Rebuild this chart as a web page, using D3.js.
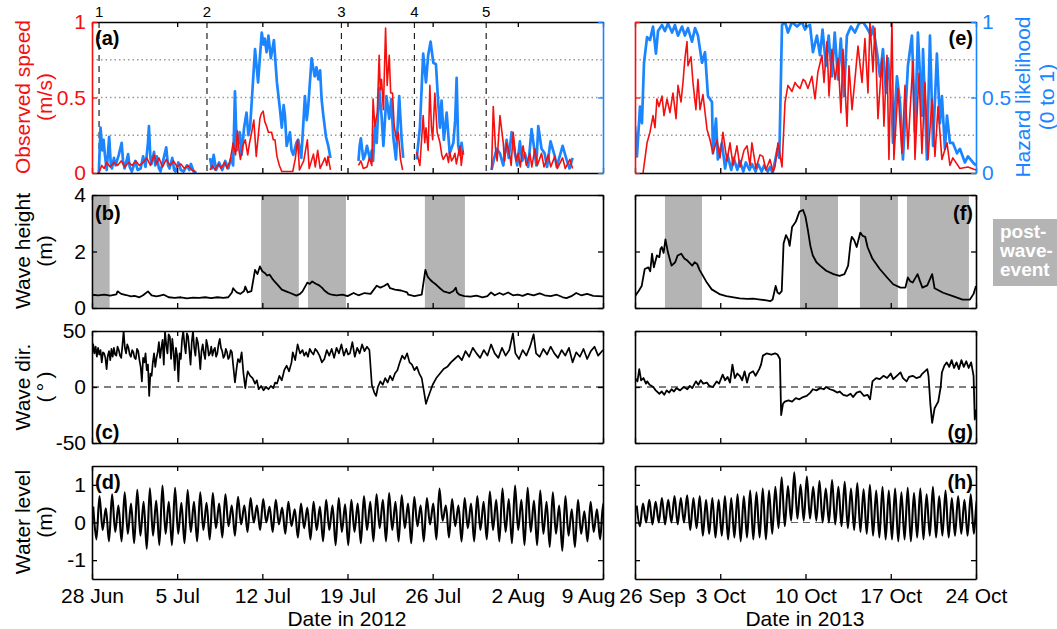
<!DOCTYPE html>
<html>
<head>
<meta charset="utf-8">
<script src="https://cdn.jsdelivr.net/npm/d3@7"></script>
<style>
  body { margin: 0; background: #fff; }
  svg { font-family: "Liberation Sans", Arial, Helvetica, sans-serif; }
</style>
</head>
<body>
<div id="chart"></div>
<script>
// ---- data (days since start of each window) ----
const ticks2012 = ["2012-06-28","2012-07-05","2012-07-12","2012-07-19","2012-07-26","2012-08-02","2012-08-09"];
const ticks2013 = ["2013-09-26","2013-10-03","2013-10-10","2013-10-17","2013-10-24"];
const eventDays2012 = [0.58, 9.45, 20.5, 26.5, 32.4];
const eventLabels = ["1","2","3","4","5"];
const postEvent2012 = [[0.1,1.45],[13.9,17.0],[17.75,20.87],[27.36,30.65]];
const postEvent2013 = [[2.46,5.5],[13.55,16.67],[18.47,21.59],[22.33,27.42]];

// hazard likelihood (blue), null = gap between deployments
const hazard2012 = [
  [0.56,0.0],[0.7,0.3],[0.85,0.15],[0.95,0.22],[1.06,0.12],[1.21,0.02],[1.41,0.24],[1.55,0.05],[1.64,0.03],[1.8,0.1],[1.94,0.05],[2.2,0.12],[2.44,0.2],[2.55,0.08],[2.68,0.03],[2.97,0.125],[3.1,0.04],[3.27,0.01],[3.56,0.08],[3.75,0.02],[4.0,0.03],[4.2,0.11],[4.4,0.04],[4.6,0.2],[4.68,0.31],[4.8,0.1],[4.89,0.06],[5.1,0.14],[5.2,0.05],[5.33,0.11],[5.5,0.03],[5.63,0.01],[5.9,0.1],[6.1,0.17],[6.25,0.05],[6.37,0.03],[6.6,0.1],[6.75,0.02],[6.87,0.01],[7.1,0.07],[7.3,0.02],[7.54,0.01],[7.8,0.05],[8.0,0.02],[8.13,0.06],[8.35,0.01],[8.58,0.0],
  null,
  [9.7,0.1],[9.85,0.03],[10.0,0.12],[10.2,0.02],[10.45,0.07],[10.7,0.02],[10.95,0.08],[11.2,0.03],[11.45,0.1],[11.6,0.05],[11.75,0.54],[11.9,0.15],[12.15,0.27],[12.3,0.12],[12.5,0.3],[12.7,0.4],[12.85,0.25],[13.0,0.31],[13.15,0.5],[13.4,0.82],[13.65,0.6],[13.95,0.93],[14.1,0.85],[14.2,0.89],[14.35,0.8],[14.5,0.91],[14.7,0.76],[14.95,0.88],[15.2,0.6],[15.45,0.42],[15.6,0.3],[15.75,0.45],[15.86,0.38],[16.0,0.18],[16.27,0.27],[16.4,0.15],[16.54,0.12],[16.8,0.2],[16.95,0.22],[17.2,0.1],[17.35,0.3],[17.5,0.51],[17.65,0.35],[17.77,0.44],[18.05,0.76],[18.3,0.64],[18.45,0.7],[18.6,0.62],[18.75,0.68],[18.87,0.49],[19.0,0.39],[19.23,0.24],[19.42,0.18],[19.6,0.1],
  null,
  [21.9,0.08],[22.0,0.18],[22.1,0.23],[22.3,0.09],[22.45,0.12],[22.6,0.18],[22.85,0.09],[23.0,0.15],[23.1,0.08],[23.25,0.31],[23.4,0.2],[23.6,0.56],[23.8,0.38],[23.95,0.18],[24.2,0.51],[24.43,0.36],[24.6,0.49],[24.76,0.24],[24.98,0.09],[25.25,0.51],[25.45,0.22],[25.58,0.1],
  null,
  [26.68,0.09],[26.95,0.3],[27.22,0.79],[27.45,0.6],[27.63,0.78],[27.83,0.87],[28.05,0.73],[28.27,0.72],[28.45,0.47],[28.6,0.3],[28.73,0.48],[28.92,0.22],[29.15,0.4],[29.4,0.13],[29.7,0.2],[29.85,0.35],[29.97,0.63],[30.1,0.18],[30.25,0.12],[30.38,0.2],[30.5,0.12],
  null,
  [32.84,0.02],[33.03,0.09],[33.26,0.16],[33.53,0.13],[33.8,0.05],[34.08,0.22],[34.25,0.1],[34.49,0.27],[34.76,0.13],[34.95,0.05],[35.17,0.21],[35.35,0.08],[35.58,0.13],[35.85,0.04],[36.13,0.29],[36.4,0.13],[36.52,0.05],[36.68,0.31],[36.95,0.16],[37.2,0.13],[37.4,0.04],[37.69,0.21],[38.04,0.11],[38.2,0.04],[38.68,0.18],[39.0,0.09],[39.25,0.03],[39.5,0.1]
];

// observed speed m/s (red)
const speed2012 = [
  [0.56,0.0],[0.8,0.05],[1.0,0.03],[1.2,0.07],[1.5,0.04],[1.8,0.07],[2.1,0.05],[2.4,0.08],[2.7,0.04],[3.0,0.07],[3.3,0.05],[3.6,0.08],[3.9,0.05],[4.2,0.07],[4.5,0.1],[4.8,0.05],[5.1,0.12],[5.3,0.06],[5.5,0.1],[5.8,0.04],[6.1,0.09],[6.4,0.05],[6.7,0.08],[7.0,0.04],[7.3,0.06],[7.6,0.03],[7.9,0.05],[8.2,0.02],[8.5,0.01],
  null,
  [9.7,0.02],[9.9,0.05],[10.1,0.02],[10.4,0.06],[10.6,0.03],[10.9,0.07],[11.1,0.03],[11.35,0.08],[11.6,0.2],[11.8,0.12],[11.95,0.28],[12.1,0.14],[12.2,0.09],[12.4,0.18],[12.6,0.22],[12.8,0.12],[12.95,0.2],[13.1,0.26],[13.3,0.35],[13.5,0.11],[13.8,0.36],[13.9,0.39],[14.07,0.41],[14.2,0.34],[14.35,0.31],[14.5,0.27],[14.76,0.27],[14.9,0.22],[15.04,0.22],[15.2,0.11],[15.4,0.05],[15.6,0.01],[16.0,0.01],[16.5,0.01],[16.7,0.09],[16.9,0.22],[17.05,0.02],[17.4,0.08],[17.7,0.22],[17.85,0.03],[18.2,0.125],[18.35,0.04],[18.55,0.15],[18.75,0.03],[19.15,0.1],[19.3,0.05],[19.4,0.11],[19.6,0.02],
  null,
  [21.9,0.05],[22.1,0.08],[22.3,0.03],[22.6,0.04],[22.8,0.1],[23.0,0.05],[23.1,0.49],[23.25,0.31],[23.45,0.4],[23.6,0.78],[23.7,0.55],[23.8,0.62],[23.95,0.42],[24.13,0.96],[24.26,0.58],[24.43,0.78],[24.55,0.53],[24.7,0.53],[24.84,0.31],[25.03,0.22],[25.17,0.27],[25.36,0.09],[25.53,0.02],
  null,
  [26.68,0.14],[26.95,0.05],[27.22,0.38],[27.35,0.2],[27.45,0.3],[27.63,0.15],[27.77,0.58],[27.9,0.3],[28.0,0.22],[28.18,0.53],[28.37,0.27],[28.6,0.2],[28.75,0.12],[28.87,0.09],[29.15,0.13],[29.3,0.07],[29.4,0.14],[29.55,0.08],[29.7,0.1],[29.83,0.13],[29.95,0.06],[30.24,0.18],[30.35,0.05],[30.5,0.15],
  null,
  [32.84,0.02],[32.98,0.44],[33.17,0.16],[33.3,0.08],[33.53,0.38],[33.8,0.2],[33.9,0.08],[34.08,0.2],[34.35,0.11],[34.45,0.05],[34.62,0.27],[34.85,0.08],[35.03,0.13],[35.2,0.04],[35.43,0.18],[35.7,0.05],[35.99,0.13],[36.15,0.04],[36.4,0.16],[36.6,0.05],[36.95,0.13],[37.15,0.04],[37.5,0.12],[37.7,0.04],[38.04,0.11],[38.25,0.03],[38.68,0.1],[38.9,0.03],[39.28,0.09],[39.5,0.03]
];

const hazard2013 = [
  [0,0.31],[0.16,0.11],[0.41,0.44],[0.57,0.33],[0.74,0.73],[0.99,0.9],[1.23,0.88],[1.48,0.97],[1.72,0.79],[1.89,0.94],[2.22,0.98],[2.46,0.94],[2.71,0.99],[3.04,0.93],[3.28,0.98],[3.53,0.91],[3.86,0.97],[4.1,0.91],[4.35,0.96],[4.68,0.87],[4.93,0.96],[5.17,0.91],[5.5,0.73],[5.75,0.8],[5.99,0.51],[6.32,0.47],[6.4,0.13],[6.65,0.36],[6.8,0.09],[7.14,0.2],
  [7.4,0.03],[7.6,0.12],[7.9,0.02],[8.1,0.1],[8.4,0.02],[8.6,0.08],[8.9,0.01],[9.1,0.07],[9.4,0.02],[9.6,0.06],[9.9,0.01],[10.1,0.06],[10.4,0.01],[10.6,0.05],[10.9,0.01],[11.1,0.04],[11.3,0.0],[11.5,0.08],[11.7,0.16],[11.85,0.1],
  [12.07,0.98],[12.32,1.0],[12.56,0.93],[12.89,1.0],[13.3,0.97],[13.71,1.0],[13.96,0.95],[14.12,0.97],[14.37,0.98],[14.61,0.8],[14.94,0.91],[15.19,0.78],[15.4,0.95],[15.68,0.71],[15.9,0.91],[16.17,0.64],[16.4,0.93],[16.67,0.62],[16.9,0.89],[17.16,0.51],[17.4,0.91],[17.73,0.97],[18.06,0.93],[18.39,0.99],[18.72,1.0],[19.05,0.96],[19.38,0.91],[19.54,0.97],[19.87,0.8],[20.11,0.64],[20.36,0.82],[20.61,0.53],[20.77,0.76],[21.1,0.42],[21.18,0.2],[21.51,0.64],[21.76,0.47],[22.0,0.09],[22.41,0.71],[22.74,0.91],[22.99,0.27],[23.23,0.93],[23.56,0.38],[23.65,0.82],[23.97,0.09],[24.22,0.91],[24.47,0.18],[24.79,0.79],[25.04,0.33],[25.2,0.51],[25.45,0.16],[25.62,0.38],[25.86,0.2],[26.1,0.2],[26.44,0.13],[26.68,0.16],[27.09,0.07],[27.34,0.11],[27.75,0.07],[28,0.05]
];

const speed2013 = [
  [0.66,0.0],[0.99,0.2],[1.23,0.27],[1.48,0.38],[1.64,0.3],[1.8,0.49],[1.97,0.44],[2.22,0.51],[2.38,0.38],[2.63,0.49],[2.87,0.4],[3.12,0.53],[3.37,0.36],[3.53,0.58],[3.78,0.47],[3.94,0.6],[4.1,0.76],[4.27,0.87],[4.35,0.71],[4.6,0.77],[4.76,0.6],[5.0,0.42],[5.17,0.62],[5.34,0.42],[5.58,0.52],[5.91,0.29],[6.16,0.22],[6.4,0.13],[6.73,0.22],[6.98,0.1],[7.22,0.27],[7.55,0.08],[7.8,0.2],[8.05,0.05],[8.37,0.18],[8.62,0.04],[8.95,0.15],[9.2,0.18],[9.44,0.05],[9.6,0.2],[9.93,0.03],[10.26,0.12],[10.5,0.11],[10.75,0.02],[11.08,0.09],[11.33,0.01],[11.49,0.04],[11.74,0.2],[12.07,0.04],
  [12.32,0.47],[12.56,0.58],[12.89,0.54],[13.14,0.6],[13.3,0.58],[13.55,0.56],[13.8,0.62],[13.96,0.61],[14.2,0.56],[14.53,0.64],[14.78,0.49],[15.02,0.67],[15.35,0.78],[15.52,0.6],[15.76,0.87],[15.93,0.51],[16.17,0.82],[16.42,0.62],[16.67,0.76],[16.91,0.4],[17.08,0.82],[17.41,0.31],[17.57,0.71],[17.82,0.42],[18.06,0.62],[18.31,0.84],[18.64,0.6],[18.88,0.89],[19.13,0.53],[19.29,1.0],[19.54,0.67],[19.7,0.96],[19.95,0.36],[20.28,0.76],[20.44,0.31],[20.69,0.78],[20.85,0.09],[21.1,1.0],[21.26,0.09],[21.59,0.56],[21.92,0.13],[22.17,0.58],[22.41,0.16],[22.82,0.74],[22.99,0.09],[23.32,0.66],[23.56,0.13],[23.81,0.6],[24.06,0.09],[24.38,0.49],[24.63,0.11],[24.88,0.44],[25.2,0.09],[25.62,0.2],[25.86,0.05],[26.1,0.1],[26.68,0.03],[27.34,0.04],[28,0.02]
];

// significant wave height (m)
const waveHeight2012 = [
  [0,0.47],[0.5,0.45],[1,0.47],[1.5,0.44],[2.0,0.48],[2.1,0.59],[2.4,0.5],[2.8,0.46],[3.2,0.41],[3.5,0.43],[3.9,0.38],[4.2,0.45],[4.6,0.59],[4.9,0.45],[5.3,0.41],[5.6,0.44],[5.9,0.47],[6.3,0.38],[6.8,0.36],[7.3,0.38],[7.8,0.34],[8.3,0.37],[8.8,0.36],[9.3,0.38],[9.8,0.35],[10.3,0.38],[10.8,0.36],[11.2,0.38],[11.5,0.55],[11.6,0.7],[11.9,0.55],[12.2,0.5],[12.5,0.6],[12.6,0.76],[12.8,0.55],[13.1,0.6],[13.3,1.1],[13.4,1.35],[13.6,1.2],[13.8,1.47],[14.0,1.3],[14.2,1.24],[14.4,1.15],[14.6,1.18],[14.8,1.05],[15.0,0.94],[15.3,0.8],[15.6,0.65],[16.0,0.58],[16.3,0.53],[16.8,0.44],[17.1,0.5],[17.3,0.59],[17.7,0.9],[17.9,0.85],[18.1,0.94],[18.4,0.86],[18.6,0.82],[18.9,0.72],[19.1,0.62],[19.4,0.52],[19.7,0.47],[20.1,0.45],[20.6,0.47],[21.0,0.42],[21.5,0.53],[21.9,0.45],[22.4,0.53],[22.9,0.5],[23.4,0.79],[23.7,0.72],[24.0,0.78],[24.3,0.86],[24.5,0.7],[24.9,0.65],[25.4,0.62],[25.9,0.55],[26.0,0.47],[26.5,0.42],[27.1,0.47],[27.4,1.35],[27.6,1.1],[27.8,1.0],[28.0,0.92],[28.3,0.82],[28.6,0.7],[28.9,0.59],[29.2,0.55],[29.4,0.53],[29.7,0.6],[29.9,0.72],[30.0,0.55],[30.2,0.47],[30.6,0.42],[31.1,0.4],[31.6,0.44],[32.1,0.38],[32.5,0.42],[32.8,0.55],[33.1,0.45],[33.5,0.53],[33.8,0.47],[34.2,0.55],[34.6,0.45],[35.0,0.47],[35.4,0.43],[35.8,0.5],[36.3,0.45],[36.8,0.52],[37.2,0.45],[37.7,0.42],[38.2,0.47],[38.7,0.38],[39.0,0.35],[39.4,0.42],[39.8,0.53],[40.2,0.45],[40.7,0.5],[41.2,0.43],[41.6,0.42],[42,0.41]
];
const waveHeight2013 = [
  [0,0.42],[0.3,0.6],[0.55,0.78],[0.8,1.38],[1.1,1.44],[1.25,1.3],[1.4,1.92],[1.55,1.44],[1.8,1.86],[2.0,1.8],[2.1,2.1],[2.2,2.16],[2.35,1.95],[2.5,2.43],[2.7,1.98],[3.0,1.5],[3.3,1.62],[3.5,1.86],[3.8,1.92],[4.05,1.75],[4.3,1.68],[4.7,1.5],[4.9,1.62],[5.1,1.56],[5.3,1.35],[5.5,1.2],[5.9,0.9],[6.3,0.66],[7.0,0.48],[7.5,0.42],[8.1,0.38],[8.6,0.34],[9.2,0.32],[9.7,0.33],[10.3,0.3],[10.8,0.27],[11.1,0.24],[11.3,0.3],[11.55,0.78],[11.7,0.55],[11.85,0.5],[12.05,0.6],[12.2,2.28],[12.4,2.58],[12.6,2.4],[12.7,2.2],[12.9,2.87],[13.2,3.05],[13.5,3.41],[13.8,3.47],[14.0,3.23],[14.2,2.75],[14.4,2.2],[14.6,1.86],[14.9,1.62],[15.2,1.5],[15.7,1.32],[16.3,1.2],[16.8,1.14],[17.2,1.2],[17.5,1.5],[17.7,2.3],[17.8,2.52],[18.0,2.4],[18.2,2.16],[18.5,2.67],[18.7,2.55],[18.9,2.52],[19.1,2.15],[19.5,1.74],[20.1,1.38],[20.7,1.08],[21.2,0.84],[21.8,0.72],[22.2,0.72],[22.4,1.08],[22.6,0.95],[22.8,0.9],[23.0,1.05],[23.2,1.2],[23.4,0.95],[23.6,0.72],[24.0,0.8],[24.4,1.2],[24.6,0.7],[25.3,0.54],[26.1,0.42],[26.9,0.3],[27.5,0.3],[27.8,0.5],[28,0.78]
];

// wave direction (degrees)
const waveDir2012 = [
  [0,28],[0.1,38],[0.2,30],[0.3,36],[0.4,27],[0.5,35],[0.6,29],[0.7,33],[0.8,22],[0.9,31],[1.0,30],[1.1,26],[1.2,16],[1.3,28],[1.4,32],[1.5,24],[1.6,34],[1.7,27],[1.8,35],[1.9,29],[2.0,28],[2.1,36],[2.2,33],[2.3,28],[2.4,26],[2.5,37],[2.6,50],[2.7,35],[2.8,30],[2.9,38],[3.0,35],[3.1,29],[3.2,27],[3.3,33],[3.4,31],[3.5,26],[3.6,25],[3.7,34],[3.8,32],[3.9,24],[4.0,18],[4.1,5],[4.2,26],[4.3,22],[4.4,30],[4.5,15],[4.6,20],[4.7,-8],[4.8,12],[4.9,10],[5.0,22],[5.1,30],[5.2,18],[5.3,26],[5.4,31],[5.5,40],[5.6,26],[5.7,35],[5.8,42],[5.9,20],[6.0,50],[6.1,38],[6.2,30],[6.3,47],[6.4,45],[6.5,25],[6.6,43],[6.7,32],[6.8,15],[6.9,35],[7.0,28],[7.1,5],[7.2,30],[7.3,25],[7.4,42],[7.5,50],[7.6,38],[7.7,30],[7.8,48],[7.9,45],[8.0,33],[8.1,20],[8.2,40],[8.3,50],[8.4,35],[8.5,28],[8.6,44],[8.7,40],[8.8,30],[8.9,16],[9.0,32],[9.1,38],[9.2,30],[9.3,25],[9.4,42],[9.5,37],[9.6,28],[9.7,30],[9.8,36],[9.9,28],[10.0,33],[10.1,35],[10.2,27],[10.3,30],[10.4,38],[10.5,43],[10.6,35],[10.7,32],[10.8,26],[10.9,28],[11.0,34],[11.1,31],[11.2,25],[11.3,27],[11.4,33],[11.5,31],[11.6,20],[11.75,4],[11.9,18],[12.0,25],[12.15,22],[12.3,31],[12.45,12],[12.6,-1],[12.7,8],[12.8,14],[13.0,10],[13.2,8],[13.4,3],[13.55,6],[13.7,-2],[13.9,1],[14.1,-3],[14.3,0],[14.5,-2],[14.7,1],[14.9,-1],[15.05,4],[15.2,3],[15.4,10],[15.6,6],[15.8,15],[16.0,19],[16.2,14],[16.4,22],[16.5,31],[16.7,24],[16.9,38],[17.1,30],[17.3,33],[17.45,28],[17.6,31],[17.75,27],[17.9,34],[18.05,31],[18.2,29],[18.35,34],[18.5,32],[18.7,28],[18.9,22],[19.1,25],[19.3,33],[19.5,28],[19.7,34],[19.9,26],[20.1,35],[20.3,30],[20.5,38],[20.7,28],[20.9,34],[21.05,29],[21.2,30],[21.4,40],[21.6,27],[21.8,35],[22.0,30],[22.2,38],[22.4,32],[22.6,36],[22.8,33],[23.0,2],[23.2,-5],[23.35,-8],[23.5,0],[23.7,5],[23.9,2],[24.1,8],[24.3,4],[24.5,10],[24.7,6],[24.9,12],[25.1,15],[25.3,22],[25.5,28],[25.7,25],[25.9,30],[26.1,22],[26.3,20],[26.5,15],[26.7,18],[26.9,12],[27.1,8],[27.3,-5],[27.45,-15],[27.6,-10],[27.8,-4],[28.0,2],[28.3,8],[28.6,12],[28.9,16],[29.2,18],[29.5,22],[29.8,25],[30.1,28],[30.4,24],[30.7,32],[31.0,27],[31.3,35],[31.6,30],[31.9,26],[32.2,33],[32.5,28],[32.8,38],[33.1,30],[33.4,26],[33.7,35],[34.0,28],[34.3,33],[34.6,48],[34.8,30],[35.1,25],[35.4,33],[35.7,28],[36.0,36],[36.3,47],[36.5,30],[36.8,27],[37.1,34],[37.4,29],[37.7,36],[38.0,30],[38.3,26],[38.6,33],[38.9,28],[39.2,35],[39.5,22],[39.8,31],[40.1,27],[40.4,34],[40.7,25],[41.0,32],[41.3,36],[41.6,28],[42,33]
];
const waveDir2013 = [
  [0,8],[0.2,5],[0.35,16],[0.5,6],[0.7,8],[0.9,3],[1.0,5],[1.2,2],[1.5,0],[1.7,-3],[2.0,-6],[2.2,-4],[2.4,-7],[2.6,-3],[2.8,-5],[3.0,-2],[3.2,-4],[3.4,-1],[3.7,-3],[4.0,0],[4.3,-2],[4.5,1],[4.7,-1],[5.0,5],[5.2,2],[5.4,6],[5.6,3],[5.9,4],[6.1,1],[6.4,0],[6.7,5],[6.9,3],[7.2,11],[7.4,6],[7.6,9],[7.8,4],[8.0,20],[8.2,8],[8.4,12],[8.6,10],[8.8,6],[9.0,14],[9.2,4],[9.4,12],[9.7,14],[9.9,10],[10.2,16],[10.35,20],[10.5,28],[10.8,30],[11.2,29],[11.5,30],[11.7,29],[11.9,25],[12.0,-25],[12.15,-15],[12.3,-13],[12.6,-12],[12.9,-13],[13.2,-10],[13.5,-11],[13.8,-9],[14.1,-8],[14.4,-5],[14.6,-2],[14.9,-3],[15.2,-1],[15.5,-2],[15.7,0],[16.0,-2],[16.3,-3],[16.6,-5],[16.8,-4],[17.1,-7],[17.4,-8],[17.7,-6],[17.9,-9],[18.2,-5],[18.5,-4],[18.8,-8],[19.1,-7],[19.3,-11],[19.5,5],[19.8,8],[20.1,7],[20.4,10],[20.7,8],[21.0,12],[21.2,7],[21.5,10],[21.8,13],[22.0,8],[22.3,5],[22.5,9],[22.8,10],[23.1,8],[23.4,9],[23.6,12],[23.8,14],[24.0,16],[24.1,10],[24.25,-15],[24.4,-32],[24.6,-19],[24.9,-13],[25.1,0],[25.2,13],[25.4,19],[25.6,22],[25.8,18],[26.0,24],[26.2,17],[26.4,22],[26.6,16],[26.8,24],[27.0,18],[27.2,23],[27.4,17],[27.6,22],[27.8,10],[27.9,-29],[28,-20]
];

// water level: successive tidal highs and lows (m)
const tideHigh2012 = [0.42,0.70,0.38,0.75,0.45,0.80,0.50,0.87, 0.55,0.91,0.58,0.98,0.55,0.92,0.52,0.86, 0.55,0.80,0.52,0.78,0.50,0.75,0.45,0.68, 0.45,0.65,0.45,0.62,0.42,0.60,0.40,0.55, 0.35,0.50,0.40,0.55,0.42,0.60,0.45,0.65, 0.48,0.60,0.50,0.70,0.55,0.75,0.60,0.78, 0.55,0.72,0.50,0.68,0.45,0.65,0.50,0.90, 0.45,0.62,0.45,0.65,0.50,0.70,0.55,0.82, 0.60,0.90,0.62,0.98,0.60,0.92,0.58,0.85, 0.55,0.80,0.45,0.70,0.35,0.60,0.30,0.55, 0.35,0.50];
const tideLow2012 = [-0.45,-0.20,-0.50,-0.25,-0.50,-0.30,-0.55,-0.35, -0.70,-0.35,-0.60,-0.30,-0.60,-0.30,-0.55,-0.25, -0.50,-0.20,-0.45,-0.15,-0.40,-0.10,-0.35,-0.05, -0.25,0.00,-0.20,0.00,-0.25,-0.05,-0.30,-0.10, -0.40,-0.15,-0.45,-0.20,-0.50,-0.20,-0.60,-0.25, -0.60,-0.25,-0.55,-0.20,-0.50,-0.15,-0.50,-0.20, -0.50,-0.15,-0.55,-0.10,-0.50,-0.05,-0.45,0.05, -0.40,-0.10,-0.50,-0.15,-0.50,-0.20,-0.45,-0.20, -0.50,-0.25,-0.55,-0.20,-0.60,-0.25,-0.60,-0.30, -0.65,-0.30,-0.75,-0.35,-0.65,-0.30,-0.50,-0.25, -0.45,-0.20];
const tideHigh2013 = [0.45,0.50,0.60,0.55,0.65,0.60,0.70,0.65, 0.72,0.65,0.70,0.60,0.65,0.60,0.70,0.65, 0.75,0.70,0.85,0.80,0.90,0.85,0.95,1.20, 0.97,1.33,1.00,1.22,0.95,1.10,0.90,1.13, 0.95,1.08,0.90,1.05,0.88,1.00,0.85,0.95, 0.85,0.90,0.80,0.92,0.78,0.90,0.75,0.95, 0.70,0.85,0.65,0.70,0.60,0.75,0.65];
const tideLow2013 = [-0.10,0.00,-0.05,0.00,-0.05,0.00,-0.05,0.00, -0.20,-0.15,-0.35,-0.30,-0.40,-0.35,-0.45,-0.40, -0.50,-0.40,-0.45,-0.40,-0.45,-0.30,-0.15,-0.10, 0.05,0.10,0.05,0.10,0.05,0.00,0.00,-0.05, -0.10,-0.15,-0.20,-0.25,-0.30,-0.35,-0.40,-0.45, -0.45,-0.50,-0.45,-0.50,-0.40,-0.45,-0.35,-0.40, -0.35,-0.40,-0.35,-0.30,-0.35,-0.30,-0.25];

// ---- layout ----
const RED = "#f51010", BLUE = "#1a85ff", GRAY = "#b4b4b4";
const DAY = 864e5;
const start2012 = Date.UTC(2012, 5, 28), start2013 = Date.UTC(2013, 8, 26);
const parse = d3.utcParse("%Y-%m-%d");
const fmtDate = d3.utcFormat("%-d %b");

const svg = d3.select("#chart").append("svg").attr("width", 1057).attr("height", 629);

const x2012 = d3.scaleUtc().domain([start2012, Date.UTC(2012, 7, 9)]).range([92, 603]);
const x2013 = d3.scaleUtc().domain([start2013, Date.UTC(2013, 9, 24)]).range([635, 976]);
const rows = { a: [22, 173], b: [195, 308], c: [331, 443], d: [466, 579] };

let clipId = 0;
function makePanel(x, row, domain) {
  const [top, bottom] = row;
  const y = d3.scaleLinear().domain(domain).range([bottom, top]);
  const id = "clip" + (clipId++);
  svg.append("clipPath").attr("id", id).append("rect")
    .attr("x", x.range()[0]).attr("y", top)
    .attr("width", x.range()[1] - x.range()[0]).attr("height", bottom - top);
  const plot = svg.append("g").attr("clip-path", `url(#${id})`);
  return { x, y, top, bottom, plot };
}

function frame(p, o) {
  const [x0, x1] = p.x.range();
  const style = (g, color) => {
    g.attr("font-family", null).attr("font-size", null).attr("color", color);
    g.select(".domain").attr("stroke-width", 1.6);
    g.selectAll(".tick line").attr("stroke-width", 1.3);
    g.selectAll(".tick text").style("font-size", "21px");
  };
  svg.append("g").attr("transform", `translate(0,${p.bottom})`)
    .call(d3.axisBottom(p.x).tickValues(o.xticks).tickSize(-5).tickSizeOuter(0).tickPadding(9)
      .tickFormat(o.xlabels ? fmtDate : ""))
    .call(g => style(g, "#000"))
    .call(g => {
      // edge labels of the two date axes are nudged apart, as in the original
      const t = g.selectAll(".tick text").nodes();
      if (o.firstShift) d3.select(t[0]).attr("dx", o.firstShift);
      if (o.lastShift) d3.select(t[t.length - 1]).attr("dx", o.lastShift);
    });
  svg.append("g").attr("transform", `translate(0,${p.top})`)
    .call(d3.axisTop(p.x).tickValues(o.xticks).tickSize(-5).tickSizeOuter(0).tickFormat(""))
    .call(g => style(g, "#000"));
  svg.append("g").attr("transform", `translate(${x0},0)`)
    .call(d3.axisLeft(p.y).tickValues(o.yticks).tickSize(-5).tickSizeOuter(0).tickPadding(6)
      .tickFormat(o.leftLabels ? (d => String(d)) : ""))
    .call(g => style(g, o.leftColor || "#000"));
  svg.append("g").attr("transform", `translate(${x1},0)`)
    .call(d3.axisRight(p.y).tickValues(o.yticks).tickSize(-5).tickSizeOuter(0).tickPadding(6)
      .tickFormat(o.rightLabels ? (d => String(d)) : ""))
    .call(g => style(g, o.rightColor || "#000"));
}

function series(p, start, data, color, width, curve) {
  const line = d3.line()
    .defined(d => d !== null)
    .x(d => p.x(start + d[0] * DAY))
    .y(d => p.y(d[1]))
    .curve(curve || d3.curveLinear);
  p.plot.append("path").datum(data).attr("d", line)
    .attr("fill", "none").attr("stroke", color).attr("stroke-width", width)
    .attr("stroke-linejoin", "round");
}

function hline(p, v, color, dash, width) {
  const [x0, x1] = p.x.range();
  p.plot.append("line").attr("x1", x0).attr("x2", x1).attr("y1", p.y(v)).attr("y2", p.y(v))
    .attr("stroke", color).attr("stroke-dasharray", dash).attr("stroke-width", width);
}

function tidePoints(highs, lows, t0) {
  const P = 0.5175, pts = [];
  highs.forEach((h, i) => {
    pts.push([t0 + i * P, h]);
    if (i < lows.length) pts.push([t0 + i * P + P / 2, lows[i]]);
  });
  return pts;
}

function letter(txt, x, y, anchor) {
  svg.append("text").attr("x", x).attr("y", y).attr("text-anchor", anchor || "start")
    .attr("font-weight", "bold").attr("font-size", 20).text(txt);
}

const tk2012 = ticks2012.map(parse), tk2013 = ticks2013.map(parse);

// ---- (a) and (e): speed and hazard ----
const pa = makePanel(x2012, rows.a, [0, 1]);
const pe = makePanel(x2013, rows.a, [0, 1]);
[pa, pe].forEach(p => [0.25, 0.5, 0.75].forEach(v => hline(p, v, "#9a9a9a", "1.5,3", 1.3)));
eventDays2012.forEach((d, i) => {
  const xx = x2012(start2012 + d * DAY);
  pa.plot.append("line").attr("x1", xx).attr("x2", xx).attr("y1", pa.top).attr("y2", pa.bottom)
    .attr("stroke", "#222").attr("stroke-dasharray", "6,5").attr("stroke-width", 1.2);
  svg.append("text").attr("x", xx).attr("y", 17).attr("text-anchor", "middle")
    .attr("font-size", 15).text(eventLabels[i]);
});
series(pa, start2012, hazard2012, BLUE, 2.7);
series(pa, start2012, speed2012, RED, 1.6);
series(pe, start2013, hazard2013, BLUE, 2.7);
series(pe, start2013, speed2013, RED, 1.6);
frame(pa, { xticks: tk2012, yticks: [0, 0.5, 1], leftLabels: true, leftColor: RED, rightColor: BLUE });
frame(pe, { xticks: tk2013, yticks: [0, 0.5, 1], rightLabels: true, leftColor: RED, rightColor: BLUE });

// ---- (b) and (f): wave height ----
const pb = makePanel(x2012, rows.b, [0, 4]);
const pf = makePanel(x2013, rows.b, [0, 4]);
[[pb, postEvent2012, start2012], [pf, postEvent2013, start2013]].forEach(([p, spans, s]) => {
  p.plot.selectAll(".shade").data(spans).join("rect")
    .attr("x", d => p.x(s + d[0] * DAY)).attr("width", d => p.x(s + d[1] * DAY) - p.x(s + d[0] * DAY))
    .attr("y", p.top).attr("height", p.bottom - p.top).attr("fill", GRAY);
});
series(pb, start2012, waveHeight2012, "#000", 1.8);
series(pf, start2013, waveHeight2013, "#000", 1.8);
frame(pb, { xticks: tk2012, yticks: [0, 2, 4], leftLabels: true });
frame(pf, { xticks: tk2013, yticks: [0, 2, 4] });

// ---- (c) and (g): wave direction ----
const pc = makePanel(x2012, rows.c, [-50, 50]);
const pg = makePanel(x2013, rows.c, [-50, 50]);
[pc, pg].forEach(p => hline(p, 0, "#000", "7,5", 1.1));
series(pc, start2012, waveDir2012, "#000", 1.7);
series(pg, start2013, waveDir2013, "#000", 1.8);
frame(pc, { xticks: tk2012, yticks: [-50, 0, 50], leftLabels: true });
frame(pg, { xticks: tk2013, yticks: [-50, 0, 50] });

// ---- (d) and (h): water level ----
const pd = makePanel(x2012, rows.d, [-1.5, 1.5]);
const ph = makePanel(x2013, rows.d, [-1.5, 1.5]);
[pd, ph].forEach(p => hline(p, 0, "#666", "7,5", 1.2));
series(pd, start2012, tidePoints(tideHigh2012, tideLow2012, 0.1), "#000", 2.1, d3.curveCatmullRom.alpha(0.5));
series(ph, start2013, tidePoints(tideHigh2013, tideLow2013, 0.14), "#000", 2.1, d3.curveCatmullRom.alpha(0.5));
frame(pd, { xticks: tk2012, yticks: [-1, 0, 1], leftLabels: true, xlabels: true, lastShift: -15 });
frame(ph, { xticks: tk2013, yticks: [-1, 0, 1], xlabels: true, firstShift: 17 });

// ---- labels ----
function ylabel(lines, x, cy, color) {
  lines.forEach((t, i) => {
    svg.append("text").attr("transform", `translate(${x[i]},${cy}) rotate(-90)`)
      .attr("text-anchor", "middle").attr("dy", "0.35em").attr("font-size", 21)
      .attr("fill", color || "#000").text(t);
  });
}
ylabel(["Observed speed", "(m/s)"], [23, 45], 97, RED);
ylabel(["Wave height", "(m)"], [23, 45], 251);
ylabel(["Wave dir.", "(\u2009\u00B0\u2009)"], [23, 45], 387);
ylabel(["Water level", "(m)"], [23, 45], 522);
ylabel(["Hazard likelihood", "(0 to 1)"], [1023, 1047], 97, BLUE);

svg.append("text").attr("x", 347).attr("y", 626).attr("text-anchor", "middle").attr("font-size", 21).text("Date in 2012");
svg.append("text").attr("x", 805).attr("y", 626).attr("text-anchor", "middle").attr("font-size", 21).text("Date in 2013");

letter("(a)", 95, 45); letter("(e)", 973, 45, "end");
letter("(b)", 95, 220); letter("(f)", 973, 220, "end");
letter("(c)", 95, 439); letter("(g)", 973, 439, "end");
letter("(d)", 95, 489); letter("(h)", 973, 489, "end");

// post-wave-event key
svg.append("rect").attr("x", 993).attr("y", 219).attr("width", 64).attr("height", 67).attr("fill", GRAY);
["post-", "wave-", "event"].forEach((t, i) => {
  svg.append("text").attr("x", 1000).attr("y", 238 + i * 19).attr("font-size", 19)
    .attr("font-weight", "bold").attr("fill", "#fff").text(t);
});
</script>
</body>
</html>
